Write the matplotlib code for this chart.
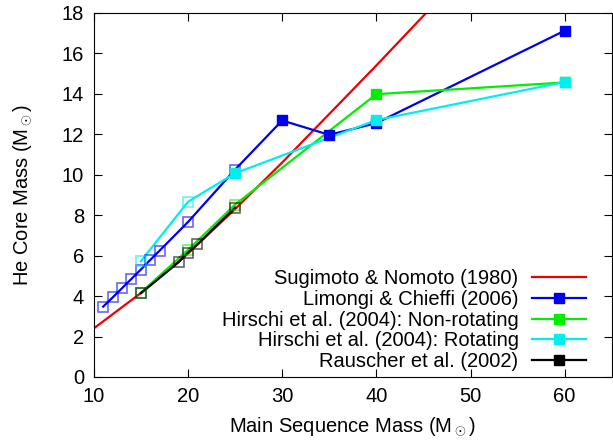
import numpy as np
import matplotlib
matplotlib.use('Agg')
import matplotlib.pyplot as plt
from matplotlib.lines import Line2D

plt.rcParams['font.family'] = ['Liberation Sans', 'DejaVu Sans']
plt.rcParams['mathtext.fontset'] = 'custom'
plt.rcParams['mathtext.rm'] = 'Liberation Sans'

# Sugimoto & Nomoto (1980) relation
sn_m = [10, 15, 20, 25, 30, 35, 40, 45.5]
sn_he = [2.4, 4.15, 6.1, 8.3, 10.6, 13.0, 15.4, 18.1]

# Limongi & Chieffi (2006)
lc_m = [11, 12, 13, 14, 15, 16, 17, 20, 25, 30, 35, 40, 60]
lc_he = [3.48, 3.93, 4.39, 4.85, 5.31, 5.79, 6.25, 7.66, 10.25, 12.68, 11.97, 12.55, 17.12]
lc_open = [True] * 9 + [False] * 4

# Hirschi et al. (2004) non-rotating
hn_m = [15, 20, 25, 40, 60]
hn_he = [4.17, 6.28, 8.52, 13.98, 14.56]
hn_open = [True, True, True, False, False]

# Hirschi et al. (2004) rotating
hr_m = [15, 20, 25, 40, 60]
hr_he = [5.72, 8.66, 10.07, 12.7, 14.58]
hr_open = [True, True, False, False, False]

# Rauscher et al. (2002)
ra_m = [15, 19, 20, 21, 25]
ra_he = [4.14, 5.67, 6.15, 6.56, 8.37]
ra_open = [True] * 5

series = [
    ('Limongi & Chieffi (2006)', lc_m, lc_he, lc_open, '#0000ee'),
    ('Hirschi et al. (2004): Non-rotating', hn_m, hn_he, hn_open, '#00ee00'),
    ('Hirschi et al. (2004): Rotating', hr_m, hr_he, hr_open, '#00eeee'),
    ('Rauscher et al. (2002)', ra_m, ra_he, ra_open, '#000000'),
]

fs = 14.5

fig = plt.figure(figsize=(6.13, 4.44), dpi=100)
ax = fig.add_axes([0.153, 0.151, 0.845, 0.820])

ax.plot(sn_m, sn_he, color='#ee0000', lw=1.6, zorder=2)

handles = [Line2D([], [], color='#ee0000', lw=1.6, label='Sugimoto & Nomoto (1980)')]
for label, m, he, op, col in series:
    m = np.array(m)
    he = np.array(he)
    op = np.array(op)
    ax.plot(m, he, color=col, lw=1.6, zorder=3)
    ax.plot(m[op], he[op], 's', ms=7, mfc='none', mec=col, mew=1.2, alpha=0.6, zorder=4)
    ax.plot(m[~op], he[~op], 's', ms=7, color=col, zorder=4)
    handles.append(Line2D([], [], color=col, lw=1.6, marker='s', ms=7, label=label))

ax.set_xlim(10, 65)
ax.set_ylim(0, 18)
ax.set_xticks([10, 20, 30, 40, 50, 60])
ax.set_yticks(np.arange(0, 19, 2))
ax.tick_params(direction='in', top=True, right=True, labelsize=fs, length=6, pad=7)
ax.set_xlabel(r'Main Sequence Mass (M$_\odot$)', fontsize=fs, labelpad=7)
ax.set_ylabel(r'He Core Mass (M$_\odot$)', fontsize=fs, labelpad=20)

ax.legend(handles=handles, loc='lower right', frameon=False, markerfirst=False,
          fontsize=fs, handlelength=2.7, handletextpad=0.65, labelspacing=0.08,
          borderaxespad=0.0, borderpad=0.3, bbox_to_anchor=(0.962, 0.0))

fig.savefig('out.png', dpi=100)
